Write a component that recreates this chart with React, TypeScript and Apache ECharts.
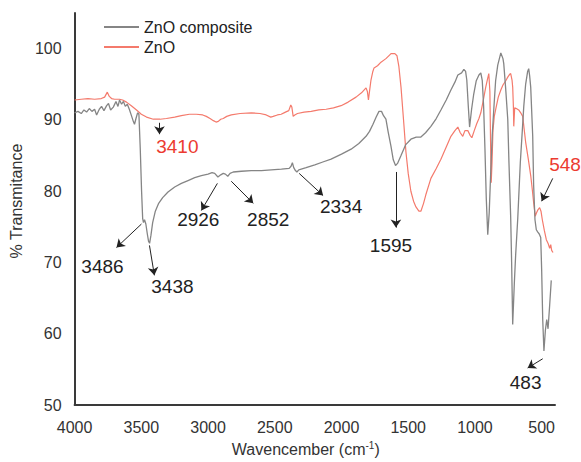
import React, { useEffect, useRef } from 'react';
import * as echarts from 'echarts';

// FT-IR spectra: [wavenumber (cm-1), % transmittance]
const compositeSpectrum: [number, number][] = [
  [4000, 91.0], [3975, 91.2], [3950, 90.9], [3930, 91.4], [3910, 91.1], [3890, 91.6], [3870, 91.2],
  [3850, 91.5], [3835, 90.7], [3815, 91.5], [3798, 91.9], [3780, 91.3], [3760, 92.0], [3746, 92.3],
  [3730, 91.4], [3710, 91.8], [3690, 92.6], [3675, 91.9], [3663, 92.8], [3648, 92.2], [3634, 92.6],
  [3620, 91.9], [3605, 92.2], [3590, 91.5], [3574, 90.6], [3560, 89.8], [3551, 89.4], [3540, 90.2],
  [3528, 91.0], [3518, 90.8], [3508, 86.0], [3498, 80.0], [3490, 76.2], [3484, 75.6], [3476, 76.0],
  [3466, 75.4], [3455, 74.0], [3446, 73.0], [3438, 72.7], [3428, 73.8], [3415, 75.6], [3395, 77.2],
  [3370, 78.3], [3340, 79.1], [3300, 79.9], [3250, 80.6], [3200, 81.1], [3150, 81.5], [3100, 81.9],
  [3050, 82.2], [3000, 82.4], [2970, 82.6], [2950, 82.5], [2926, 82.0], [2905, 82.3], [2886, 82.5],
  [2870, 82.4], [2852, 82.1], [2835, 82.5], [2811, 82.7], [2750, 82.8], [2676, 82.9], [2600, 82.9],
  [2527, 83.0], [2450, 83.1], [2392, 83.2], [2378, 83.5], [2368, 84.0], [2358, 83.3], [2345, 82.9],
  [2334, 82.7], [2320, 83.0], [2265, 83.3], [2200, 83.7], [2140, 84.1], [2078, 84.5], [2000, 85.2],
  [1928, 85.9], [1870, 86.7], [1816, 87.7], [1790, 88.4], [1764, 89.4], [1740, 90.4], [1719, 91.2],
  [1700, 91.2], [1685, 90.6], [1667, 90.1], [1650, 88.3], [1629, 86.3], [1612, 84.4], [1595, 83.6],
  [1580, 83.9], [1554, 85.0], [1520, 86.5], [1480, 87.3], [1440, 87.6], [1405, 87.6], [1370, 88.2],
  [1330, 89.1], [1290, 90.2], [1255, 91.4], [1215, 92.8], [1180, 94.2], [1150, 95.3], [1128, 96.3],
  [1100, 96.6], [1083, 97.1], [1070, 96.8], [1061, 95.6], [1050, 92.0], [1040, 89.0], [1025, 91.5],
  [1010, 93.5], [990, 95.5], [970, 96.3], [956, 96.6], [945, 95.5], [935, 92.0], [925, 86.0],
  [915, 79.0], [904, 73.9], [893, 77.0], [881, 83.0], [870, 88.0], [859, 91.4], [845, 95.5],
  [829, 97.7], [806, 99.4], [790, 98.6], [784, 97.9], [770, 94.5], [754, 90.1], [745, 84.0],
  [732, 76.3], [725, 70.0], [717, 61.3], [705, 67.0], [695, 71.0], [679, 76.2], [660, 84.0],
  [645, 88.5], [634, 91.9], [620, 95.0], [605, 96.8], [597, 97.2], [590, 96.2], [582, 94.6],
  [567, 87.7], [560, 80.8], [550, 76.0], [540, 74.6], [530, 74.3], [518, 74.0], [507, 73.5],
  [500, 69.0], [492, 62.0], [483, 57.6], [472, 60.5], [462, 62.0], [452, 60.7], [440, 64.0],
  [428, 67.5],
];

const znoSpectrum: [number, number][] = [
  [4000, 92.8], [3950, 92.9], [3900, 93.0], [3850, 92.9], [3800, 93.0], [3775, 93.2], [3755, 93.9],
  [3740, 93.3], [3723, 93.0], [3700, 92.9], [3663, 92.9], [3640, 92.8], [3611, 92.5], [3575, 92.0],
  [3536, 91.4], [3500, 90.8], [3461, 90.4], [3410, 90.1], [3360, 90.1], [3312, 90.2], [3250, 90.4],
  [3200, 90.6], [3140, 90.8], [3088, 90.8], [3040, 90.7], [3013, 90.5], [2985, 90.2], [2960, 89.9],
  [2940, 89.7], [2923, 89.8], [2905, 90.1], [2886, 90.2], [2860, 90.5], [2826, 90.7], [2760, 90.9],
  [2676, 91.0], [2610, 90.9], [2564, 90.7], [2530, 90.4], [2512, 90.5], [2480, 90.7], [2452, 90.8],
  [2420, 91.1], [2395, 91.3], [2380, 92.1], [2372, 91.8], [2362, 90.5], [2350, 90.7], [2330, 90.9],
  [2280, 91.1], [2227, 91.2], [2170, 91.4], [2115, 91.5], [2060, 91.7], [2003, 92.0], [1950, 92.5],
  [1891, 93.2], [1850, 93.8], [1816, 94.5], [1806, 94.0], [1798, 92.8], [1790, 94.0], [1779, 95.6],
  [1765, 96.8], [1756, 97.3], [1730, 97.6], [1704, 98.1], [1667, 98.6], [1640, 99.1], [1629, 99.3],
  [1600, 99.3], [1584, 99.0], [1570, 97.5], [1554, 94.6], [1535, 90.0], [1517, 85.5], [1500, 82.5],
  [1480, 80.0], [1460, 78.6], [1442, 77.8], [1420, 77.2], [1405, 77.2], [1385, 78.3], [1368, 79.5],
  [1330, 81.8], [1290, 83.2], [1255, 84.5], [1215, 86.2], [1180, 87.7], [1150, 88.5], [1128, 89.0],
  [1110, 88.2], [1091, 87.7], [1075, 88.5], [1053, 88.5], [1035, 87.8], [1023, 87.5], [1005, 88.5],
  [986, 89.5], [970, 90.2], [956, 91.0], [940, 92.5], [919, 94.6], [905, 95.8], [896, 96.5],
  [888, 94.0], [883, 87.0], [878, 81.2], [872, 84.0], [865, 88.5], [855, 90.5], [844, 91.5],
  [825, 93.2], [806, 94.2], [790, 94.9], [769, 95.5], [754, 96.0], [740, 96.4], [732, 96.5],
  [722, 95.6], [717, 94.6], [712, 92.0], [709, 89.1], [702, 91.7], [690, 91.6], [672, 91.4],
  [657, 91.0], [642, 90.5], [620, 86.9], [600, 84.5], [582, 82.2], [570, 80.2], [560, 78.4],
  [548, 76.5], [540, 76.9], [528, 77.4], [515, 77.7], [505, 77.2], [495, 76.0], [480, 74.5],
  [465, 73.2], [450, 72.6], [440, 72.0], [432, 72.5], [425, 71.7], [415, 71.4],
];

const xTickValues = [4000, 3500, 3000, 2500, 2000, 1500, 1000, 500];

// Peak call-outs: arrow tail, arrow head and label anchor, in data coordinates
type Note = { label: string; tail: [number, number]; head: [number, number]; at: [number, number]; leftAnchored?: boolean };

const compositeNotes: Note[] = [
  { label: '3486', tail: [3499, 75.4], head: [3686, 72.1], at: [3791, 69.5] },
  { label: '3438', tail: [3439, 72.4], head: [3402, 68.2], at: [3267, 66.6] },
  { label: '2926', tail: [2930, 81.1], head: [3050, 77.3], at: [3073, 76.0] },
  { label: '2852', tail: [2826, 81.4], head: [2661, 78.3], at: [2549, 76.1] },
  { label: '2334', tail: [2317, 82.5], head: [2138, 79.4], at: [2003, 77.8] },
  { label: '1595', tail: [1592, 82.7], head: [1592, 74.9], at: [1629, 72.4] },
  { label: '483', tail: [492, 56.5], head: [605, 55.2], at: [620, 53.2] },
];

const znoNotes: Note[] = [
  { label: '3410', tail: [3364, 89.6], head: [3364, 88.0], at: [3230, 86.3] },
  { label: '548', tail: [417, 81.8], head: [500, 78.6], at: [447, 83.8], leftAnchored: true },
];

const FONT = '"Liberation Sans", Arial, sans-serif';

function arrows(notes: Note[]) {
  return {
    silent: true,
    symbol: ['none', 'arrow'],
    symbolSize: 8,
    lineStyle: { color: '#222', width: 1, type: 'solid' as const },
    label: { show: false },
    emphasis: { disabled: true },
    data: notes.map((n) => [{ coord: n.tail }, { coord: n.head }]),
  };
}

function labels(notes: Note[], color: string) {
  return {
    silent: true,
    symbol: 'circle',
    symbolSize: 1,
    itemStyle: { color: 'transparent' },
    emphasis: { disabled: true },
    data: notes.map((n) => ({
      coord: n.at,
      value: n.label,
      label: {
        show: true,
        formatter: n.label,
        position: n.leftAnchored ? 'right' : 'inside',
        distance: 0,
        color,
        fontSize: 19,
        fontFamily: FONT,
      },
    })),
  };
}

export default function App() {
  const ref = useRef<HTMLDivElement>(null);

  useEffect(() => {
    document.body.style.margin = '0';
    if (!ref.current) return;
    const chart = echarts.init(ref.current, undefined, { renderer: 'svg' });
    chart.setOption({
      animation: false,
      backgroundColor: '#ffffff',
      textStyle: { fontFamily: FONT },
      grid: { left: 73, right: 26, top: 13, bottom: 52 },
      legend: {
        orient: 'vertical',
        left: 98,
        top: 14,
        itemWidth: 35,
        itemHeight: 14,
        itemGap: 4,
        itemStyle: { opacity: 0 },
        textStyle: { fontSize: 16, color: '#222', fontFamily: FONT },
        data: ['ZnO composite', 'ZnO'],
      },
      xAxis: {
        type: 'value',
        inverse: true,
        min: 400,
        max: 4000,
        axisLine: { show: true, onZero: false, lineStyle: { color: '#3a3a3a', width: 2 } },
        axisTick: { show: false },
        splitLine: { show: false },
        axisLabel: {
          customValues: xTickValues,
          formatter: (v: number) => String(v),
          fontSize: 16,
          color: '#333',
          margin: 14,
          fontFamily: FONT,
        },
        name: 'Wavencember (cm{sup|-1})',
        nameLocation: 'middle',
        nameGap: 34,
        nameTextStyle: {
          fontSize: 16,
          color: '#333',
          fontFamily: FONT,
          padding: [0, 18, 0, 0],
          rich: { sup: { fontSize: 10, verticalAlign: 'top', color: '#333', fontFamily: FONT, padding: [0, 0, 8, 0] } },
        },
      },
      yAxis: {
        type: 'value',
        min: 50,
        max: 105,
        interval: 10,
        axisLine: { show: true, lineStyle: { color: '#3a3a3a', width: 2 } },
        axisTick: { show: false },
        splitLine: { show: false },
        axisLabel: {
          formatter: (v: number) => String(v),
          fontSize: 16,
          color: '#333',
          margin: 13,
          showMaxLabel: false,
          fontFamily: FONT,
        },
        name: '% Transmitance',
        nameLocation: 'middle',
        nameGap: 44,
        nameTextStyle: { fontSize: 16, color: '#333', fontFamily: FONT, padding: [0, 0, 0, 16] },
      },
      series: [
        {
          name: 'ZnO composite',
          type: 'line',
          data: compositeSpectrum,
          symbol: 'none',
          silent: true,
          z: 3,
          lineStyle: { color: '#858585', width: 1.3 },
          itemStyle: { color: '#858585' },
          markLine: arrows(compositeNotes),
          markPoint: labels(compositeNotes, '#222'),
        },
        {
          name: 'ZnO',
          type: 'line',
          data: znoSpectrum,
          symbol: 'none',
          silent: true,
          z: 2,
          lineStyle: { color: '#f47a6c', width: 1.2 },
          itemStyle: { color: '#f47a6c' },
          markLine: arrows(znoNotes),
          markPoint: labels(znoNotes, '#ec3b30'),
        },
      ],
    });
    return () => chart.dispose();
  }, []);

  return <div ref={ref} style={{ width: 581, height: 462 }} />;
}
